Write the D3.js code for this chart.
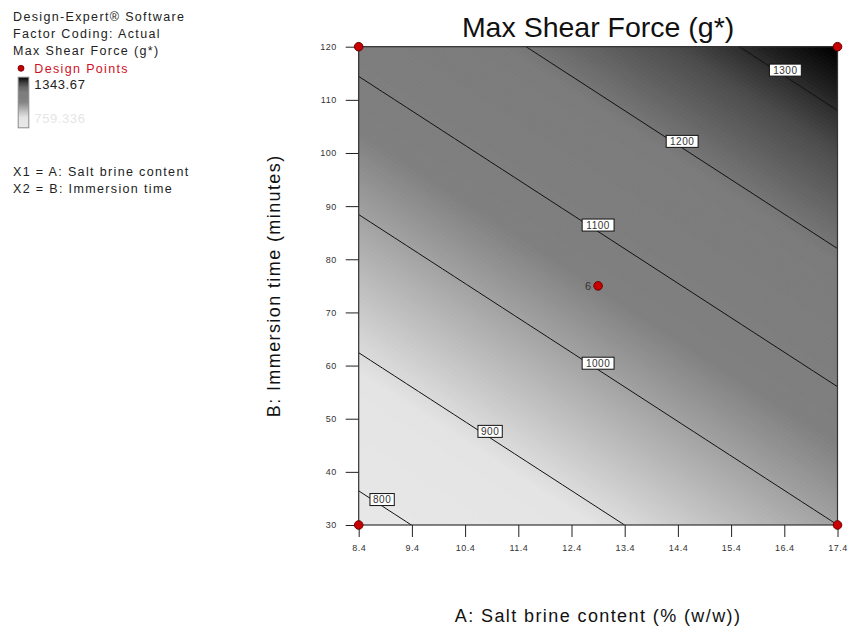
<!DOCTYPE html>
<html>
<head>
<meta charset="utf-8">
<script src="https://cdn.jsdelivr.net/npm/d3@7"></script>
<style>
  body { margin: 0; background: #fff; }
  text { font-family: "Liberation Sans", Arial, sans-serif; }
</style>
</head>
<body>
<div id="chart"></div>
<script>
// response surface (coded factors, A,B in [-1,1])
let coefTerms = ["intercept", "A", "B"];
let coefValues = [1060.7, 112.3, 173.1];

let xName = "A: Salt brine content (% (w/w))";
let yName = "B: Immersion time (minutes)";
let xTicks = [8.4, 9.4, 10.4, 11.4, 12.4, 13.4, 14.4, 15.4, 16.4, 17.4];
let yTicks = [30, 40, 50, 60, 70, 80, 90, 100, 110, 120];

let contourLevels = [800, 900, 1000, 1100, 1200, 1300];
let labelX = [8.84, 10.87, 12.9, 12.9, 14.48, 16.42];

let designX = [8.4, 17.4, 8.4, 17.4, 12.9];
let designY = [30, 30, 120, 120, 75];
let designLabel = ["", "", "", "", "6"];

let rangeMax = 1343.67;
let rangeMin = 759.336;

let legendLines = ["Design-Expert\u00ae Software", "Factor Coding: Actual", "Max Shear Force (g*)"];
let factorLines = ["X1 = A: Salt brine content", "X2 = B: Immersion time"];

// grey ramp used for the shading
let shadeStops = [759, 885, 1060, 1190, 1270, 1344];
let shadeGreys = ["#e8e8e8", "#e4e4e4", "#808080", "#7c7c7c", "#4c4c4c", "#000000"];

function chart(selector) {
    let width = 850, height = 628;
    let margin = ({ top: 46.7, right: 12.5, bottom: 103, left: 358.7 });

    let x = d3.scaleLinear()
        .domain([8.4, 17.4])
        .range([margin.left, width - margin.right]);
    let y = d3.scaleLinear()
        .domain([30, 120])
        .range([height - margin.bottom, margin.top]);

    let shade = d3.scaleLinear().domain(shadeStops).range(shadeGreys);

    let model = (xv, yv) => {
        let A = (xv - 12.9) / 4.5, B = (yv - 75) / 45;
        return coefValues[0] + coefValues[1] * A + coefValues[2] * B;
    };
    // y on a contour level for a given x (model is linear in B)
    let yOnLevel = (lev, xv) => {
        let A = (xv - 12.9) / 4.5;
        let B = (lev - coefValues[0] - coefValues[1] * A) / coefValues[2];
        return 75 + 45 * B;
    };

    let svg = d3.select(selector).append("svg")
        .attr("width", width)
        .attr("height", height)
        .attr("viewBox", [0, 0, width, height]);

    let pw = x.range()[1] - x.range()[0];
    let ph = y.range()[0] - y.range()[1];

    svg.append("clipPath").attr("id", "plotclip")
        .append("rect")
        .attr("x", x.range()[0]).attr("y", y.range()[1])
        .attr("width", pw).attr("height", ph);

    // shaded surface through d3.contours
    let n = 120;
    let grid = new Array(n * n);
    let [x0, x1] = x.domain(), [y0, y1] = y.domain();
    for (let j = 0; j < n; ++j) {
        for (let i = 0; i < n; ++i) {
            let xv = x0 + (i + 0.5) / n * (x1 - x0);
            let yv = y1 - (j + 0.5) / n * (y1 - y0);
            grid[i + j * n] = model(xv, yv);
        }
    }
    let thresholds = d3.range(740, 1360, 3);
    let contours = d3.contours().size([n, n]).thresholds(thresholds)(grid);
    let proj = d3.geoTransform({
        point: function (gx, gy) {
            this.stream.point(x.range()[0] + gx / n * pw, y.range()[1] + gy / n * ph);
        }
    });
    let path = d3.geoPath(proj);

    svg.append("g")
        .attr("clip-path", "url(#plotclip)")
        .selectAll("path")
        .data(contours)
        .join("path")
        .attr("d", path)
        .attr("fill", d => shade(d.value + 1.5))
        .attr("stroke", d => shade(d.value + 1.5))
        .attr("stroke-width", 0.6);

    // contour lines
    let xs = d3.range(0, 41).map(k => x0 + k / 40 * (x1 - x0));
    let line = d3.line().x(d => x(d[0])).y(d => y(d[1]));
    svg.append("g")
        .attr("clip-path", "url(#plotclip)")
        .attr("fill", "none")
        .attr("stroke", "#111")
        .attr("stroke-width", 1)
        .selectAll("path")
        .data(contourLevels)
        .join("path")
        .attr("d", lev => line(xs.map(xv => [xv, yOnLevel(lev, xv)])));

    // contour labels: box bottom centre sits on the line
    let lab = svg.append("g")
        .selectAll("g")
        .data(contourLevels)
        .join("g")
        .attr("transform", (lev, i) => `translate(${x(labelX[i])},${y(yOnLevel(lev, labelX[i]))})`);
    lab.append("rect")
        .attr("x", lev => -(String(lev).length * 7.6 + 1.5) / 2)
        .attr("y", -12.5)
        .attr("width", lev => String(lev).length * 7.6 + 1.5)
        .attr("height", 12)
        .attr("fill", "white")
        .attr("stroke", "#111")
        .attr("stroke-width", 1);
    lab.append("text")
        .attr("y", -2.8)
        .attr("text-anchor", "middle")
        .attr("font-size", 10)
        .attr("letter-spacing", 0.5)
        .attr("fill", "#333")
        .text(lev => lev);

    // frame
    svg.append("rect")
        .attr("x", x.range()[0]).attr("y", y.range()[1])
        .attr("width", pw).attr("height", ph)
        .attr("fill", "none")
        .attr("stroke", "#333")
        .attr("stroke-width", 1.2);

    // axes
    let xAxis = g => g
        .attr("transform", `translate(0,${y.range()[0]})`)
        .call(d3.axisBottom(x).tickValues(xTicks).tickSize(12).tickPadding(8).tickFormat(d3.format(".1f")))
        .call(g => g.select(".domain").remove())
        .call(g => g.selectAll(".tick line").attr("stroke", "#222"))
        .call(g => g.selectAll(".tick text").attr("fill", "#333").attr("font-size", 9).attr("letter-spacing", 0.5)
            .attr("font-family", "Liberation Sans, Arial, sans-serif"));
    let yAxis = g => g
        .attr("transform", `translate(${x.range()[0]},0)`)
        .call(d3.axisLeft(y).tickValues(yTicks).tickSize(13).tickPadding(9))
        .call(g => g.select(".domain").remove())
        .call(g => g.selectAll(".tick line").attr("stroke", "#222"))
        .call(g => g.selectAll(".tick text").attr("fill", "#333").attr("font-size", 9).attr("letter-spacing", 0.5)
            .attr("font-family", "Liberation Sans, Arial, sans-serif"));
    svg.append("g").call(xAxis);
    svg.append("g").call(yAxis);

    // design points
    let pts = svg.append("g");
    pts.selectAll("circle")
        .data(designX)
        .join("circle")
        .attr("cx", d => x(d))
        .attr("cy", (d, i) => y(designY[i]))
        .attr("r", 4.3)
        .attr("fill", "#c80000")
        .attr("stroke", "#6a0000")
        .attr("stroke-width", 1);
    pts.selectAll("text")
        .data(designX)
        .join("text")
        .attr("x", d => x(d) - 7)
        .attr("y", (d, i) => y(designY[i]) + 4)
        .attr("text-anchor", "end")
        .attr("font-size", 11)
        .attr("fill", "#333")
        .text((d, i) => designLabel[i]);

    // titles
    svg.append("text")
        .attr("x", (x.range()[0] + x.range()[1]) / 2)
        .attr("y", 36.5)
        .attr("text-anchor", "middle")
        .attr("font-size", 28.5)
        .attr("fill", "#111")
        .text("Max Shear Force (g*)");
    svg.append("text")
        .attr("x", (x.range()[0] + x.range()[1]) / 2)
        .attr("y", 622)
        .attr("text-anchor", "middle")
        .attr("font-size", 18)
        .attr("letter-spacing", 1.4)
        .attr("fill", "#111")
        .text(xName);
    svg.append("text")
        .attr("transform", `translate(280,${(y.range()[0] + y.range()[1]) / 2}) rotate(-90)`)
        .attr("text-anchor", "middle")
        .attr("font-size", 18)
        .attr("letter-spacing", 1.4)
        .attr("fill", "#111")
        .text(yName);

    // legend block, top left
    let leg = svg.append("g")
        .attr("font-size", 12.5)
        .attr("letter-spacing", 1.35)
        .attr("fill", "#222");
    leg.selectAll("text.head")
        .data(legendLines)
        .join("text")
        .attr("class", "head")
        .attr("x", 13)
        .attr("y", (d, i) => 20.7 + i * 17.2)
        .text(d => d);
    leg.append("circle")
        .attr("cx", 21).attr("cy", 68.3).attr("r", 3)
        .attr("fill", "#c80000").attr("stroke", "#6a0000").attr("stroke-width", 0.8);
    leg.append("text")
        .attr("x", 34.3).attr("y", 72.7)
        .attr("fill", "#d0101e")
        .text("Design Points");

    let grad = svg.append("defs").append("linearGradient")
        .attr("id", "legramp")
        .attr("x1", 0).attr("y1", 1).attr("x2", 0).attr("y2", 0);
    grad.selectAll("stop")
        .data(d3.range(0, 11).map(k => rangeMin + k / 10 * (rangeMax - rangeMin)))
        .join("stop")
        .attr("offset", (d, k) => k / 10)
        .attr("stop-color", d => shade(d));
    leg.append("rect")
        .attr("x", 18.2).attr("y", 77.2)
        .attr("width", 10.6).attr("height", 50.6)
        .attr("fill", "url(#legramp)")
        .attr("stroke", "#8a8a8a")
        .attr("stroke-width", 1);
    leg.append("text")
        .attr("x", 34.3).attr("y", 89.3)
        .attr("letter-spacing", 0.6)
        .attr("font-size", 13)
        .text(d3.format(".2f")(rangeMax));
    leg.append("text")
        .attr("x", 34.3).attr("y", 123)
        .attr("letter-spacing", 0.6)
        .attr("font-size", 13)
        .attr("fill", "#e6e6e6")
        .text(d3.format(".3f")(rangeMin));

    leg.selectAll("text.fac")
        .data(factorLines)
        .join("text")
        .attr("class", "fac")
        .attr("x", 13)
        .attr("y", (d, i) => 176 + i * 17.3)
        .text(d => d);

    return svg.node();
}

chart("#chart");
</script>
</body>
</html>
